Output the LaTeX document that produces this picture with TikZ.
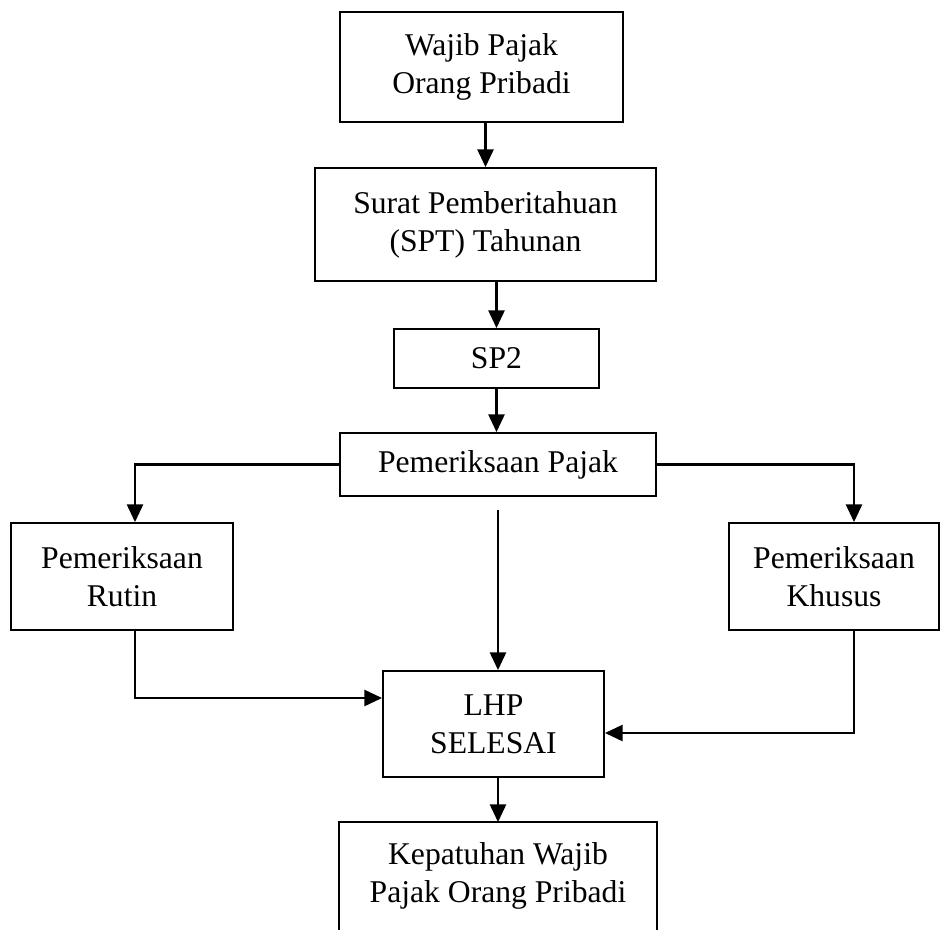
\documentclass[tikz,border=0pt]{standalone}
\usepackage{fontspec}
\setmainfont{Liberation Serif}
\usetikzlibrary{arrows.meta}
\begin{document}
\begin{tikzpicture}[x=0.025cm,y=-0.025cm,font=\fontsize{22.5}{27}\selectfont,line width=1.3pt,bx/.style={rectangle,draw,align=center,inner sep=0pt},arr/.style={-{Triangle[length=0.44cm,width=0.4cm]},line width=1.6pt}]
\useasboundingbox (0,0) rectangle (940,929); \clip (0,0) rectangle (940,929);
\node[bx,minimum width=7.075cm,minimum height=2.75cm] (wp) at (481.5,67) {Wajib Pajak\\Orang Pribadi};
\node[bx,minimum width=8.525cm,minimum height=2.825cm] (spt) at (485.5,224.5) {Surat Pemberitahuan\\(SPT) Tahunan};
\node[bx,minimum width=5.125cm,minimum height=1.475cm] (sp2) at (496.5,358.5) {SP2};
\node[bx,minimum width=7.9cm,minimum height=1.575cm] (pp) at (498,464.5) {Pemeriksaan Pajak};
\node[bx,minimum width=5.55cm,minimum height=2.675cm] (rutin) at (122,576.5) {Pemeriksaan\\Rutin}; \node[bx,minimum width=5.25cm,minimum height=2.675cm] (khusus) at (834,576.5) {Pemeriksaan\\Khusus};
\node[bx,minimum width=5.525cm,minimum height=2.65cm] (lhp) at (493.5,724) {LHP\\SELESAI};
\node[bx,draw=none,minimum width=7.9cm,minimum height=2.65cm] (kp) at (498,876) {Kepatuhan Wajib\\Pajak Orang Pribadi};
\draw ([yshift=-0.5cm]kp.south west) |- (kp.north east) -- ([yshift=-0.5cm]kp.south east);
% arrows down the middle
\draw[arr] (spt.north |- wp.south) -- (spt.north); \draw[arr] (sp2.north |- spt.south) -- (sp2.north); \draw[arr] (sp2.south) -- (sp2.south |- pp.north);
\draw[arr] ([yshift=-0.325cm]pp.south) -- (pp.south |- lhp.north); \draw[arr] (lhp.south -| kp.north) -- (kp.north);
% side branches
\draw[arr] (pp.west) -| ([xshift=0.325cm]rutin.north); \draw[arr] (pp.east) -| ([xshift=0.5cm]khusus.north);
\draw[arr] ([xshift=0.325cm]rutin.south) |- ([yshift=0.65cm]lhp.west); \draw[arr] ([xshift=0.5cm]khusus.south) |- ([yshift=-0.225cm]lhp.east);
\end{tikzpicture}
\end{document}
